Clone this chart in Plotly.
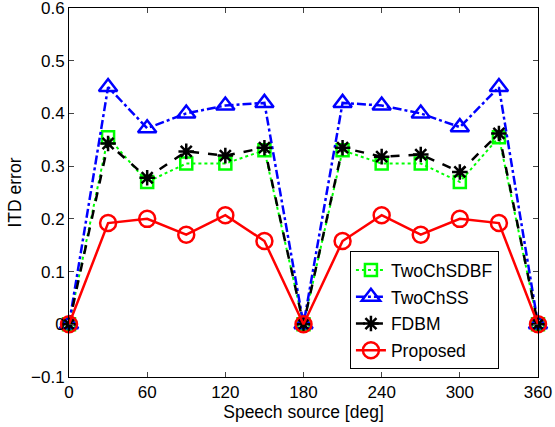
import plotly.graph_objects as go

angles = [0, 30, 60, 90, 120, 150, 180, 210, 240, 270, 300, 330, 360]
two_ch_sdbf = [0, 0.355, 0.270, 0.305, 0.305, 0.330, 0, 0.330, 0.305, 0.305, 0.270, 0.355, 0]
two_ch_ss = [0, 0.450, 0.372, 0.400, 0.415, 0.420, 0, 0.420, 0.415, 0.400, 0.374, 0.450, 0]
fdbm = [0, 0.343, 0.278, 0.328, 0.320, 0.335, 0, 0.335, 0.318, 0.322, 0.289, 0.362, 0]
proposed = [0, 0.192, 0.200, 0.170, 0.207, 0.158, 0, 0.158, 0.207, 0.170, 0.200, 0.192, 0]

x_ticks = [0, 60, 120, 180, 240, 300, 360]
y_ticks = [-0.1, 0, 0.1, 0.2, 0.3, 0.4, 0.5, 0.6]
y_labels = ["\u22120.1", "0", "0.1", "0.2", "0.3", "0.4", "0.5", "0.6"]

FONT = "Liberation Sans, Arial, Helvetica, sans-serif"

fig = go.Figure()
fig.add_trace(go.Scatter(x=angles, y=two_ch_sdbf, name="TwoChSDBF", mode="lines+markers", legendgroup="a",
                         cliponaxis=False,
                         line=dict(color="#00ff00", width=2, dash="dot"),
                         marker=dict(symbol="square-open", size=12, color="#00ff00", line=dict(width=2.5))))
fig.add_trace(go.Scatter(x=angles, y=two_ch_ss, name="TwoChSS", mode="lines+markers", legendgroup="b",
                         cliponaxis=False,
                         line=dict(color="#0000ff", width=2.5, dash="dashdot"),
                         marker=dict(symbol="triangle-up-open", size=16, color="#0000ff", line=dict(width=2.5))))
fig.add_trace(go.Scatter(x=angles, y=fdbm, name="FDBM", mode="lines+markers", legendgroup="c",
                         cliponaxis=False,
                         line=dict(color="#000000", width=2.5, dash="dash"),
                         marker=dict(symbol="asterisk-open", size=13, color="#000000", line=dict(width=2.5))))
fig.add_trace(go.Scatter(x=angles, y=proposed, name="Proposed", mode="lines+markers", legendgroup="d",
                         cliponaxis=False,
                         line=dict(color="#ff0000", width=2.5),
                         marker=dict(symbol="circle-open", size=16, color="#ff0000", line=dict(width=2.5))))

fig.update_layout(
    width=555, height=427,
    margin=dict(l=69, r=17, t=8, b=50, autoexpand=False),
    paper_bgcolor="white", plot_bgcolor="white",
    font=dict(family=FONT, size=17.5, color="#000000"),
    showlegend=True,
    legend=dict(x=0.599, y=0.341, xanchor="left", yanchor="top",
                bgcolor="white", bordercolor="black", borderwidth=1,
                font=dict(size=17.5), tracegroupgap=1, traceorder="grouped"),
)
fig.update_xaxes(range=[0, 360], tickvals=x_ticks, ticks="inside", ticklen=5,
                 showline=True, linecolor="black", linewidth=1, mirror="ticks",
                 showgrid=False, zeroline=False, automargin=False,
                 ticklabeloverflow="allow",
                 tickfont=dict(size=17),
                 title=dict(text="Speech source [deg]", standoff=0, font=dict(size=17.5)))
fig.update_yaxes(range=[-0.1, 0.60001], tickvals=y_ticks, ticktext=y_labels, ticks="inside", ticklen=5,
                 showline=True, linecolor="black", linewidth=1, mirror="ticks",
                 showgrid=False, zeroline=False, automargin=False,
                 ticklabeloverflow="allow",
                 tickfont=dict(size=17),
                 title=dict(text="ITD error", standoff=4, font=dict(size=17.5)))

fig.write_html("out.html", config={"displayModeBar": False},
               post_script="document.body.style.margin='0';document.body.style.padding='0';")
